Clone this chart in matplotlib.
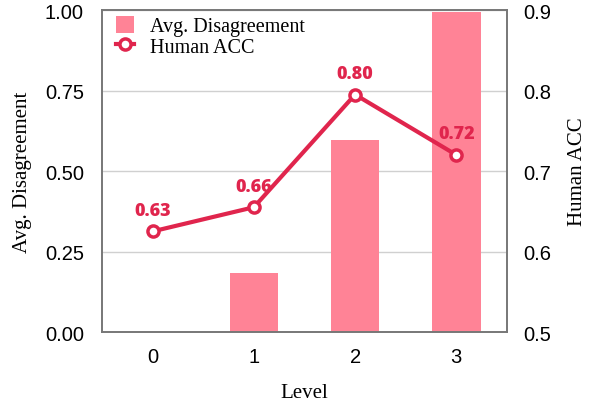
import matplotlib
matplotlib.use("Agg")
import matplotlib.pyplot as plt
import numpy as np

levels = [0, 1, 2, 3]
level_labels = ["0", "1", "2", "3"]
avg_disagreement = [0.0, 0.184, 0.595, 0.994]
human_acc = [0.625, 0.655, 0.795, 0.72]
acc_labels = ["0.63", "0.66", "0.80", "0.72"]

bar_color = "#FF8396"
line_color = "#E0254D"

fig = plt.figure(figsize=(5.92, 4.06), dpi=100)
ax = fig.add_axes([0.1723, 0.1798, 0.684, 0.793])
ax2 = ax.twinx()

ax.set_axisbelow(True)
ax.yaxis.grid(True, color="#d0d0d0", linewidth=1.0)
bars = ax.bar(levels, avg_disagreement, width=0.48, color=bar_color, label="Avg. Disagreement", zorder=2)
ax.set_ylim(0, 1.0)
ax.set_yticks([0, 0.25, 0.5, 0.75, 1.0])
ax.set_yticklabels(["0.00", "0.25", "0.50", "0.75", "1.00"])
ax.set_xlim(-0.5, 3.5)
ax.set_xticks(levels)
ax.set_xticklabels(level_labels)

line, = ax2.plot(levels, human_acc, color=line_color, linewidth=3, marker="o", markersize=8,
                 markerfacecolor="white", markeredgecolor=line_color, markeredgewidth=2.5,
                 label="Human ACC", zorder=3)
ax2.set_ylim(0.5, 0.9)
ax2.set_yticks([0.5, 0.6, 0.7, 0.8, 0.9])
ax2.set_yticklabels(["0.5", "0.6", "0.7", "0.8", "0.9"])

for x, y, t in zip(levels, human_acc, acc_labels):
    ax2.annotate(t, (x, y), xytext=(0, 9), textcoords="offset points", ha="center", va="bottom",
                 color=line_color, fontsize=13, fontweight=800, family="Open Sans")

tick_font = "Liberation Sans"
for a in (ax, ax2):
    for lab in a.get_xticklabels() + a.get_yticklabels():
        lab.set_fontfamily(tick_font)
        lab.set_fontsize(14.5)
    for s in a.spines.values():
        s.set_color("#777777")
        s.set_linewidth(1.2)
ax.tick_params(axis="y", length=0, pad=13)
ax.tick_params(axis="x", length=0, pad=11)
ax2.tick_params(axis="y", length=0, pad=12)

ax.set_xlabel("Level", family="Liberation Serif", fontsize=15, labelpad=12)
ax.set_ylabel("Avg. Disagreement", family="Liberation Serif", fontsize=15, labelpad=9)
ax2.set_ylabel("Human ACC", family="Liberation Serif", fontsize=15, labelpad=12)

ax.legend([bars, line], ["Avg. Disagreement", "Human ACC"], loc="upper left", frameon=False,
          prop={"family": "Liberation Serif", "size": 14.5}, handlelength=0.9, handleheight=0.9,
          borderaxespad=0.2, borderpad=0.1, handletextpad=0.8, labelspacing=0.0,
          bbox_to_anchor=(0.02, 1.0))

fig.savefig("out.png", dpi=100)
